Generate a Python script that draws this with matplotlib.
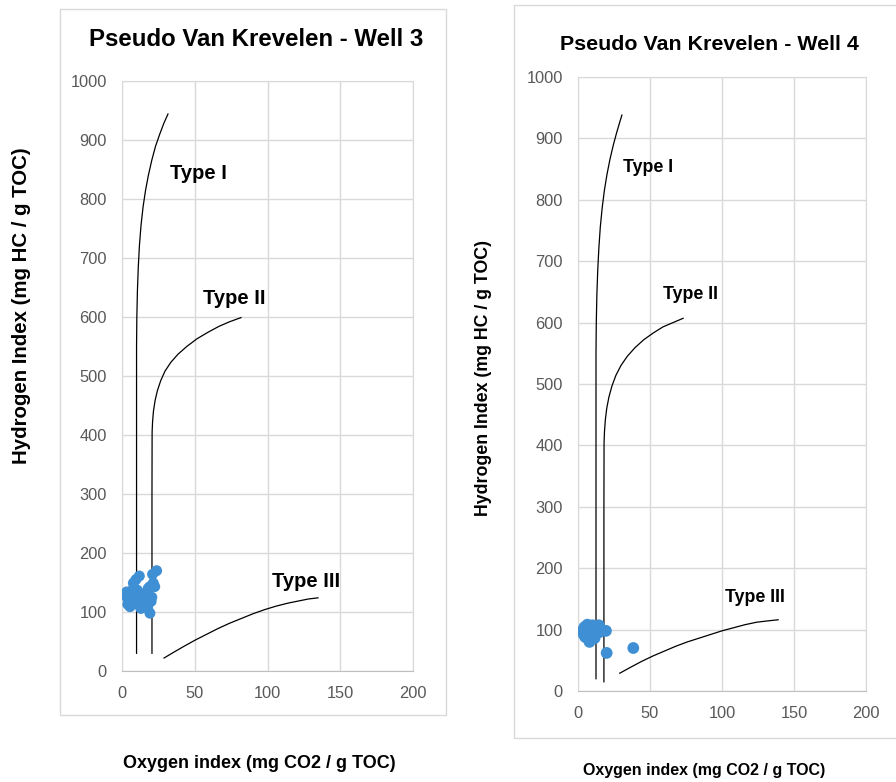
import matplotlib.pyplot as plt
from matplotlib.patches import Rectangle

plt.rcParams['font.family'] = ['Liberation Sans', 'DejaVu Sans']

# Well 3 samples (oxygen index, hydrogen index)
oi_w3 = [3.2, 4.3, 5.5, 6.0, 7.8, 9.6, 11.9, 21.0, 23.8, 19.2, 21.5, 17.6, 19.2,
         4.0, 6.5, 8.5, 10.5, 12.5, 14.0, 15.5, 16.5, 18.0, 20.5, 22.5, 3.5, 5.0,
         7.0, 13.0, 9.0, 11.0, 16.0, 20.0]
hi_w3 = [134, 120, 109, 126, 149, 155, 161, 164, 170, 143, 149, 107, 98,
         113, 118, 130, 137, 128, 119, 112, 123, 140, 125, 143, 125, 130,
         137, 106, 114, 121, 132, 118]

# Well 4 samples
oi_w4 = [3.0, 4.5, 6.0, 7.5, 9.0, 10.5, 12.0, 13.5, 5.0, 7.0, 9.5, 11.5, 14.5,
         4.0, 8.0, 12.5, 19.4, 19.9, 38.4, 6.5, 10.0, 15.0]
hi_w4 = [98, 104, 101, 95, 100, 106, 99, 104, 88, 85, 90, 86, 107,
         92, 80, 93, 98, 62, 70, 108, 107, 96]

# kerogen type reference curves, Well 3 chart
t1_w3_x = [10, 10, 10, 10.2, 10.6, 11.2, 12.0, 13.1, 14.5, 16.2, 18.2, 20.5,
           23.0, 25.8, 28.7, 31.6]
t1_w3_y = [30, 300, 550, 600, 645, 685, 722, 756, 787, 815, 841, 866,
           889, 909, 928, 944]
t2_w3_x = [20.6, 20.6, 20.7, 21.0, 21.6, 22.7, 24.3, 26.6, 29.5, 33.5, 38.5,
           44.5, 51.5, 59.0, 66.5, 74.0, 81.8]
t2_w3_y = [30, 300, 405, 422, 440, 458, 475, 492, 508, 523, 537,
           550, 563, 574, 584, 592, 599]
t3_w3_x = [28.9, 35, 42, 50, 58, 66, 74, 82, 90, 98, 106, 114, 122, 128, 134.7]
t3_w3_y = [22, 31, 41, 52, 62, 72, 81, 89, 97, 104, 110, 115, 119, 122, 124]

# kerogen type reference curves, Well 4 chart
t1_w4_x = [12.5, 12.5, 12.5, 12.7, 13.1, 13.7, 14.5, 15.5, 16.8, 18.3, 20.1,
           22.2, 24.5, 26.8, 28.8, 30.5]
t1_w4_y = [20, 300, 550, 600, 645, 685, 722, 756, 787, 815, 841,
           866, 889, 909, 925, 938]
t2_w4_x = [18, 18, 18.1, 18.4, 19.0, 20.0, 21.5, 23.6, 26.3, 29.8, 34.2,
           39.5, 45.6, 52.2, 59.0, 66.0, 73.0]
t2_w4_y = [15, 300, 405, 423, 442, 461, 479, 497, 514, 530, 545,
           559, 572, 583, 593, 600, 607]
t3_w4_x = [29, 36, 44, 52, 60, 68, 76, 84, 92, 100, 108, 116, 124, 131, 139]
t3_w4_y = [29, 38, 48, 57, 65, 73, 80, 86, 92, 98, 103, 108, 112, 114, 116]

type_names = ['Type I', 'Type II', 'Type III']
label_pos_w3 = [(33, 844), (56, 632), (103, 151)]
label_pos_w4 = [(31, 852), (59, 645), (102, 153)]

dot_color = '#3f8fd4'
grid_color = '#d9d9d9'
tick_color = '#595959'

fig = plt.figure(figsize=(8.96, 7.82), dpi=100)

# chart area borders
fig.patches.append(Rectangle((60 / 896, 1 - 715 / 782), 386 / 896, 706 / 782,
                             transform=fig.transFigure, fill=False,
                             edgecolor=grid_color, lw=1))
fig.patches.append(Rectangle((514 / 896, 1 - 738 / 782), 400 / 896, 733 / 782,
                             transform=fig.transFigure, fill=False,
                             edgecolor=grid_color, lw=1))

ax1 = fig.add_axes([122 / 896, 1 - 671 / 782, 291 / 896, 590 / 782])
ax2 = fig.add_axes([578 / 896, 1 - 691 / 782, 288 / 896, 614 / 782])


def style_axes(ax):
    ax.set_xlim(0, 200)
    ax.set_ylim(0, 1000)
    ax.set_xticks(range(0, 201, 50))
    ax.set_yticks(range(0, 1001, 100))
    ax.grid(True, color=grid_color, lw=1)
    ax.set_axisbelow(True)
    for side in ['top', 'right', 'left']:
        ax.spines[side].set_color(grid_color)
    ax.spines['bottom'].set_color('#bfbfbf')
    ax.tick_params(length=0, labelsize=11.8, labelcolor=tick_color, pad=11)


panels = [
    (ax1, oi_w3, hi_w3, [(t1_w3_x, t1_w3_y), (t2_w3_x, t2_w3_y), (t3_w3_x, t3_w3_y)],
     label_pos_w3, 14.5, 62),
    (ax2, oi_w4, hi_w4, [(t1_w4_x, t1_w4_y), (t2_w4_x, t2_w4_y), (t3_w4_x, t3_w4_y)],
     label_pos_w4, 12.8, 72),
]

for ax, ox, hy, curves, lpos, lsize, dot_size in panels:
    style_axes(ax)
    for cx, cy in curves:
        ax.plot(cx, cy, color='black', lw=0.9)
    ax.scatter(ox, hy, s=dot_size, color=dot_color, edgecolors='none', zorder=3)
    for name, (lx, ly) in zip(type_names, lpos):
        ax.text(lx, ly, name, fontsize=lsize, fontweight='bold', ha='left', va='center')

fig.text(256 / 896, 1 - 40 / 782, 'Pseudo Van Krevelen - Well 3',
         ha='center', va='center', fontsize=17.3, fontweight='bold')
fig.text(709 / 896, 1 - 45 / 782, 'Pseudo Van Krevelen - Well 4',
         ha='center', va='center', fontsize=15.4, fontweight='bold')

fig.text(22 / 896, 1 - 306 / 782, 'Hydrogen Index (mg HC / g TOC)', rotation=90,
         ha='center', va='center', fontsize=14.7, fontweight='bold')
fig.text(483 / 896, 1 - 378 / 782, 'Hydrogen Index (mg HC / g TOC)', rotation=90,
         ha='center', va='center', fontsize=12.8, fontweight='bold')
fig.text(259 / 896, 1 - 764 / 782, 'Oxygen index (mg CO2 / g TOC)',
         ha='center', va='center', fontsize=13, fontweight='bold',
         family=['Liberation Sans Narrow', 'Liberation Sans'])
fig.text(704 / 896, 1 - 771 / 782, 'Oxygen index (mg CO2 / g TOC)',
         ha='center', va='center', fontsize=11.5, fontweight='bold',
         family=['Liberation Sans Narrow', 'Liberation Sans'])

fig.savefig('out.png', dpi=100)
